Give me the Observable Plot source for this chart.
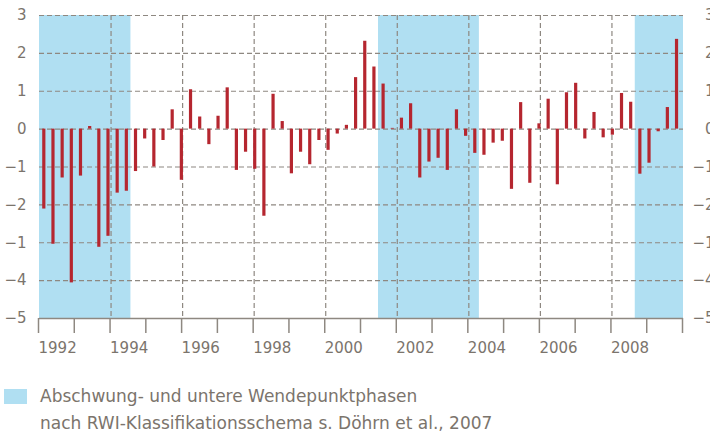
<!DOCTYPE html>
<html>
<head>
<meta charset="utf-8">
<script src="https://cdn.jsdelivr.net/npm/d3@7"></script>
<script src="https://cdn.jsdelivr.net/npm/@observablehq/plot@0.6"></script>
<style>
  body { margin: 0; background: #fff; overflow: hidden; font-family: "DejaVu Sans", sans-serif; }
  #chart { position: absolute; left: 0; top: 0; width: 710px; height: 365px; }
  #chart svg { position: absolute; left: 0; top: 0; overflow: visible; background: transparent !important; }
  #swatch { position: absolute; left: 4px; top: 389px; width: 23px; height: 15px; background: #b0dff2; }
  #legendText { position: absolute; left: 40px; top: 383px; font-size: 17px; line-height: 26.5px; color: #7b746c; white-space: nowrap; }
</style>
</head>
<body>
<div id="chart"></div>
<div id="swatch"></div>
<div id="legendText">Abschwung- und untere Wendepunktphasen<br>nach RWI-Klassifikationsschema s. Döhrn et al., 2007</div>
<script>
// ---- data ----
const firstYear = 1992;
const values = [
  -2.11, -3.04, -1.29, -4.06, -1.24, 0.07, -3.12, -2.83, -1.69, -1.64,
  -1.12, -0.26, -1.00, -0.30, 0.51, -1.35, 1.04, 0.32, -0.41, 0.34,
  1.09, -1.09, -0.61, -1.06, -2.30, 0.92, 0.20, -1.18, -0.61, -0.94,
  -0.30, -0.56, -0.13, 0.10, 1.36, 2.32, 1.64, 1.19, 0.02, 0.29,
  0.67, -1.29, -0.87, -0.77, -1.09, 0.51, -0.19, -0.64, -0.69, -0.37,
  -0.32, -1.59, 0.70, -1.43, 0.14, 0.79, -1.47, 0.96, 1.21, -0.26,
  0.44, -0.23, -0.16, 0.94, 0.71, -1.19, -0.90, -0.07, 0.57, 2.37
];
const quarters = values.map((v, i) => `${firstYear + Math.floor(i / 4)}Q${(i % 4) + 1}`);
const phases = [
  {start: "1992Q1", end: "1994Q2"},
  {start: "2001Q2", end: "2003Q4"},
  {start: "2008Q2", end: null}
];
const years = d3.range(1992, 2011);
const xLabels = ["1992", "1994", "1996", "1998", "2000", "2002", "2004", "2006", "2008"];
const gridYears = [1994, 1996, 1998, 2000, 2002, 2004, 2006, 2008];
const yTicks = [3, 2, 1, 0, -1, -2, -3, -4, -5];
const yLabels = ["3", "2", "1", "0", "\u22121", "\u22122", "\u22121", "\u22124", "\u22125"];

// ---- styles ----
const blue = "#b0dff2";
const red = "#b5262f";
const gridColor = "#8e8881";
const textColor = "#7b746c";
const common = {
  width: 710, height: 365,
  marginTop: 15, marginBottom: 47, marginLeft: 39, marginRight: 27,
  style: {background: "transparent", overflow: "visible", color: textColor, fontFamily: "DejaVu Sans, sans-serif", fontSize: "15px"}
};
const qDomain = [-0.47, 69.76];
const yDomain = [-5, 3];
const bars = values.map((v, i) => ({q: quarters[i], i, v}));
const phaseRects = phases.map(p => ({
  x1: quarters.indexOf(p.start) - 0.5,
  x2: p.end ? quarters.indexOf(p.end) + 0.5 : qDomain[1]
}));

// layer 1: shading (quarter scale)
const shade = Plot.plot({
  ...common,
  x: {domain: qDomain, axis: null},
  y: {domain: yDomain, axis: null},
  marks: [
    Plot.rect(phaseRects, {x1: "x1", x2: "x2", y1: () => yDomain[0], y2: () => yDomain[1], fill: blue, clip: true})
  ]
});

// layer 2: grid and axes (year scale)
const fmtY = v => yLabels[yTicks.indexOf(v)];
const axes = Plot.plot({
  ...common,
  x: {domain: [years[0], years[years.length - 1]], axis: null},
  y: {domain: yDomain, axis: null},
  marks: [
    Plot.ruleY(yTicks.filter(d => d > yDomain[0]), {stroke: gridColor, strokeWidth: 1.2, strokeDasharray: "5,3"}),
    Plot.ruleX(gridYears, {stroke: gridColor, strokeWidth: 1.2, strokeDasharray: "5,3"}),
    Plot.ruleY([yDomain[0]], {stroke: gridColor, strokeWidth: 1.6}),
    Plot.axisX({
      ticks: years, tickSize: 15, tickPadding: 9, stroke: gridColor, strokeWidth: 1.5,
      textAnchor: "start", dx: -1,
      tickFormat: d => xLabels.includes(String(d)) ? String(d) : ""
    }),
    Plot.axisY({ticks: yTicks, tickSize: 0, tickPadding: 13, tickFormat: fmtY}),
    Plot.axisY({anchor: "right", ticks: yTicks, tickSize: 0, tickPadding: 31, textAnchor: "end", tickFormat: fmtY})
  ]
});

// layer 3: bars (quarter scale)
const barPlot = Plot.plot({
  ...common,
  x: {domain: qDomain, axis: null},
  y: {domain: yDomain, axis: null},
  marks: [
    Plot.ruleX(bars, {x: "i", y1: () => 0, y2: "v", stroke: red, strokeWidth: 3.2, title: d => `${d.q}: ${d.v}`})
  ]
});

const chart = document.getElementById("chart");
chart.append(shade, axes, barPlot);
</script>
</body>
</html>
